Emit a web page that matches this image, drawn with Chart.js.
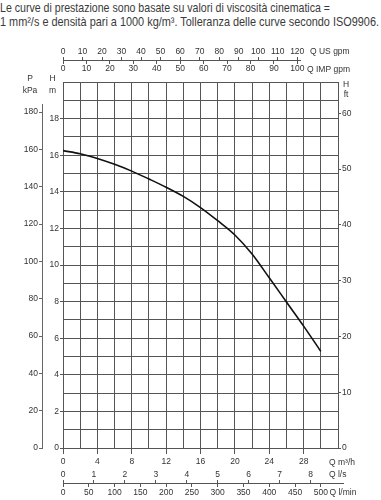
<!DOCTYPE html>
<html><head><meta charset="utf-8">
<script src="https://cdn.jsdelivr.net/npm/chart.js@4/dist/chart.umd.min.js"></script>
<style>
html,body{margin:0;padding:0;background:#fff;}
#wrap{position:relative;width:381px;height:500px;overflow:hidden;background:#fff;}
canvas{position:absolute;left:0;top:0;}
#note{position:absolute;left:0;top:1px;font-family:'Liberation Sans',Arial,sans-serif;font-size:12.4px;line-height:14px;color:#3a3a3a;white-space:nowrap;}
#note span{display:inline-block;transform-origin:0 0;}
</style></head>
<body><div id="wrap">
<div id="note"><span id="l1">Le curve di prestazione sono basate su valori di viscosità cinematica =</span><br><span id="l2">1 mm²/s e densità pari a 1000 kg/m³. Tolleranza delle curve secondo ISO9906.</span></div>
<canvas id="cP" width="381" height="500"></canvas>
<canvas id="cMain" width="381" height="500"></canvas>
<canvas id="cTop" width="381" height="500"></canvas>
<canvas id="cBot" width="381" height="500"></canvas>
</div>
<script>
// ---- data ----
const flowM3h = [0, 2, 4, 6, 8, 10, 12, 14, 16, 18, 20, 22, 24, 26, 28, 30];
const headM   = [16.25, 16.08, 15.82, 15.5, 15.13, 14.7, 14.25, 13.75, 13.14, 12.42, 11.64, 10.6, 9.3, 7.98, 6.66, 5.28];

const qGridM3h   = [0,2,4,6,8,10,12,14,16,18,20,22,24,26,28,30,32];
const qLabelM3h  = [0,4,8,12,16,20,24,28];
const hGridM     = [0,1,2,3,4,5,6,7,8,9,10,11,12,13,14,15,16,17,18,19,20];
const hLabelM    = [0,2,4,6,8,10,12,14,16,18];
const pTicksKpa  = [0,20,40,60,80,100,120,140,160,180];
const hTicksFt   = [0,10,20,30,40,50,60];
const usGpmTicks = [0,10,20,30,40,50,60,70,80,90,100,110,120];
const impGpmTicks= [0,10,20,30,40,50,60,70,80,90,100];
const lsTicks    = [0,1,2,3,4,5,6,7,8];
const lminTicks  = [0,50,100,150,200,250,300,350,400,450,500];

// unit conversions
const M_TO_FT = 1 / 0.3048;
const M_TO_KPA = 9.80665;
const M3H_TO_USGPM = 4.402868;
const M3H_TO_IMPGPM = 3.666154;
const M3H_TO_LS = 1 / 3.6;
const M3H_TO_LMIN = 1000 / 60;

// ---- layout geometry ----
const W = 381, H = 500;
const PL = 63, PR = 338, PT = 82, PB = 448;
const Q_MAX = 32, H_MAX = 20;
const TOP_AXIS_END_Q = 27.6, BOT_AXIS_END_Q = 32.6, P_AXIS_END_KPA = 184;
const xOfQ = q => PL + q * (PR - PL) / Q_MAX;

const FONT = "'Liberation Sans',Arial,sans-serif";
const FS = 8.5;
const TXT = '#333', GRID = '#555';
const tickFont = {family: FONT, size: FS};

// header: squeeze each line to the condensed width of the original
(function () {
  [['l1', 330], ['l2', 379]].forEach(([id, target]) => {
    const el = document.getElementById(id);
    const w = el.getBoundingClientRect().width;
    el.style.transform = 'scaleX(' + (target / w) + ')';
  });
})();

function textPlugin(items) {
  return {
    id: 'axisTexts',
    afterDraw(chart) {
      const ctx = chart.ctx;
      ctx.save();
      ctx.fillStyle = TXT;
      ctx.textBaseline = 'middle';
      items.forEach(it => {
        ctx.font = (it.size || FS) + 'px ' + FONT;
        ctx.textAlign = it.align || 'left';
        ctx.fillText(it.t, it.x, it.y);
      });
      ctx.restore();
    }
  };
}
const setTicks = arr => s => { s.ticks = arr.map(v => ({value: v})); };
const base = {responsive: false, animation: false, devicePixelRatio: 1,
  plugins: {legend: {display: false}, tooltip: {enabled: false}}};

// ---- P kPa axis ----
new Chart(document.getElementById('cP'), {
  type: 'line', data: {datasets: []},
  options: Object.assign({}, base, {
    layout: {padding: {left: 0, right: W - 43, top: PB - P_AXIS_END_KPA / M_TO_KPA * (PB - PT) / H_MAX, bottom: H - PB}},
    scales: {
      xd: {type: 'linear', axis: 'x', display: false},
      p: {type: 'linear', axis: 'y', position: 'left', min: 0, max: P_AXIS_END_KPA,
        afterBuildTicks: setTicks(pTicksKpa),
        afterFit: s => { s.width = 42; },
        grid: {drawOnChartArea: false, tickLength: 3, color: '#666'},
        border: {display: true, color: '#666'},
        ticks: {font: tickFont, color: TXT, padding: 1, autoSkip: false}}
    }
  })
});

// ---- main chart ----
new Chart(document.getElementById('cMain'), {
  type: 'line',
  data: {datasets: [{
    data: flowM3h.map((q, i) => ({x: q, y: headM[i]})),
    borderColor: '#111', borderWidth: 1.6, pointRadius: 0,
    cubicInterpolationMode: 'monotone', fill: false
  }]},
  options: Object.assign({}, base, {
    layout: {padding: {left: 42, top: PT, right: 0, bottom: 0}},
    scales: {
      x: {type: 'linear', position: 'bottom', min: 0, max: Q_MAX,
        afterBuildTicks: setTicks(qGridM3h),
        afterFit: s => { s.height = H - PB; },
        grid: {color: GRID, lineWidth: 1, tickLength: 6,
          tickColor: c => (c.tick && qLabelM3h.includes(c.tick.value)) ? GRID : 'rgba(0,0,0,0)'},
        border: {color: GRID},
        ticks: {font: tickFont, color: TXT, padding: 3, maxRotation: 0, autoSkip: false,
          callback: v => qLabelM3h.includes(v) ? String(v) : ''}},
      y: {type: 'linear', position: 'left', min: 0, max: H_MAX,
        afterBuildTicks: setTicks(hGridM),
        afterFit: s => { s.width = PL - 42; },
        grid: {color: GRID, lineWidth: 1, tickLength: 3,
          tickColor: c => (c.tick && hLabelM.includes(c.tick.value)) ? GRID : 'rgba(0,0,0,0)'},
        border: {color: GRID},
        ticks: {font: tickFont, color: TXT, padding: 1, autoSkip: false,
          callback: v => hLabelM.includes(v) ? String(v) : ''}},
      yFt: {type: 'linear', position: 'right', min: 0, max: H_MAX * M_TO_FT,
        afterBuildTicks: setTicks(hTicksFt),
        afterFit: s => { s.width = W - PR; },
        grid: {drawOnChartArea: false, color: GRID, tickLength: 3},
        border: {color: GRID},
        ticks: {font: tickFont, color: TXT, padding: 1, autoSkip: false}}
    }
  }),
  plugins: [textPlugin([
    {t: 'P', x: 30, y: 78.5, align: 'center'},
    {t: 'kPa', x: 30, y: 90.5, align: 'center'},
    {t: 'H', x: 52.5, y: 78.5, align: 'center'},
    {t: 'm', x: 52.5, y: 90.5, align: 'center'},
    {t: 'H', x: 346, y: 84.5, align: 'center'},
    {t: 'ft', x: 346, y: 94.5, align: 'center'},
    {t: 'Q m³/h', x: 329, y: 462.7}
  ])]
});

// ---- top flow axes (US gpm / IMP gpm) ----
new Chart(document.getElementById('cTop'), {
  type: 'line', data: {datasets: []},
  options: Object.assign({}, base, {
    layout: {padding: {left: PL, right: W - xOfQ(TOP_AXIS_END_Q), top: 40, bottom: H - 81}},
    scales: {
      us: {type: 'linear', axis: 'x', position: 'top', min: 0, max: TOP_AXIS_END_Q * M3H_TO_USGPM,
        afterBuildTicks: setTicks(usGpmTicks),
        afterFit: s => { s.height = 20; },
        grid: {drawOnChartArea: false, tickLength: 3, color: GRID},
        border: {display: true, color: GRID},
        ticks: {font: tickFont, color: TXT, padding: 0, maxRotation: 0, autoSkip: false}},
      imp: {type: 'linear', axis: 'x', position: 'bottom', min: 0, max: TOP_AXIS_END_Q * M3H_TO_IMPGPM,
        afterBuildTicks: setTicks(impGpmTicks),
        afterFit: s => { s.height = 20; },
        grid: {drawOnChartArea: false, tickLength: 3, color: GRID},
        border: {display: false},
        ticks: {font: tickFont, color: TXT, padding: 0, maxRotation: 0, autoSkip: false}},
      yd: {type: 'linear', axis: 'y', display: false}
    }
  }),
  plugins: [textPlugin([
    {t: 'Q US gpm', x: 310, y: 51.7},
    {t: 'Q IMP gpm', x: 307, y: 69.5}
  ])]
});

// ---- bottom flow axes (l/s / l/min) ----
new Chart(document.getElementById('cBot'), {
  type: 'line', data: {datasets: []},
  options: Object.assign({}, base, {
    layout: {padding: {left: PL, right: W - xOfQ(BOT_AXIS_END_Q), top: 483 - 20, bottom: 0}},
    scales: {
      ls: {type: 'linear', axis: 'x', position: 'top', min: 0, max: BOT_AXIS_END_Q * M3H_TO_LS,
        afterBuildTicks: setTicks(lsTicks),
        afterFit: s => { s.height = 20; },
        grid: {drawOnChartArea: false, tickLength: 3, color: GRID},
        border: {display: true, color: GRID},
        ticks: {font: tickFont, color: TXT, padding: 0, maxRotation: 0, autoSkip: false}},
      lmin: {type: 'linear', axis: 'x', position: 'bottom', min: 0, max: BOT_AXIS_END_Q * M3H_TO_LMIN,
        afterBuildTicks: setTicks(lminTicks),
        afterFit: s => { s.height = 16; },
        grid: {drawOnChartArea: false, tickLength: 3, color: GRID},
        border: {display: false},
        ticks: {font: tickFont, color: TXT, padding: 1, maxRotation: 0, autoSkip: false}},
      yd: {type: 'linear', axis: 'y', display: false}
    }
  }),
  plugins: [textPlugin([
    {t: 'Q l/s', x: 329, y: 475},
    {t: 'Q l/min', x: 329.5, y: 493}
  ])]
});
</script>
</body></html>
